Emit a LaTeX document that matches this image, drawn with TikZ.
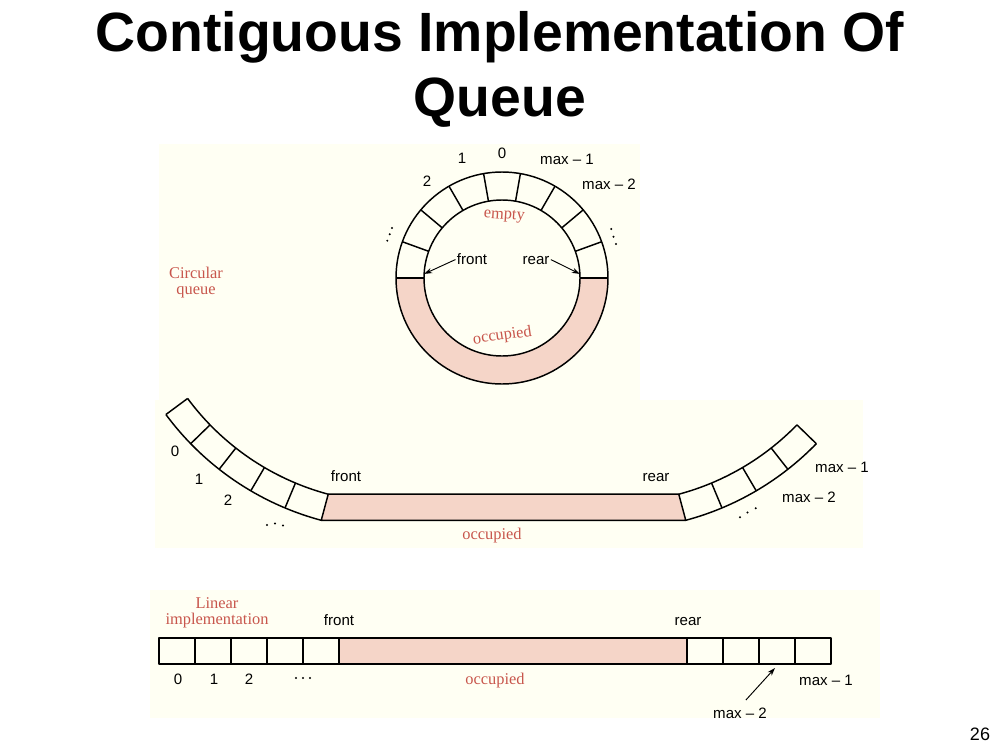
\documentclass[tikz,border=0pt]{standalone}
\usepackage{fontspec}
\setmainfont{Liberation Sans}
\newfontfamily\redfont{Liberation Serif}
\usetikzlibrary{arrows.meta}
\definecolor{cream}{RGB}{255,255,243}
\definecolor{occ}{RGB}{245,213,200}
\definecolor{redtxt}{RGB}{200,86,76}
\begin{document}
\begin{tikzpicture}[x=0.75pt,y=-0.75pt,
  lab/.style={font=\fontsize{11.3}{13}\selectfont, inner sep=0pt, text height=8.2pt, text depth=0pt},
  redlab/.style={font=\redfont\fontsize{12.3}{14}\selectfont, text=redtxt, inner sep=0pt, anchor=base},
  ring/.style={draw=black, line width=1.1pt, line join=round},
  ptr/.style={-{Stealth[length=6pt,width=4pt]}, line width=0.7pt, shorten <=1pt},
  titletext/.style={font=\bfseries\fontsize{41.5}{48}\selectfont, inner sep=0pt, anchor=base}]
\useasboundingbox (0,0) rectangle (1000,750);
\fill[white] (0,0) rectangle (1000,750);

% figure panels
\fill[cream] (159,144) rectangle (640,400);
\fill[cream] (155,400) rectangle (863,548);
\fill[cream] (150,590) rectangle (880,718);

% title
\node[titletext] (title1) at (500,51) {Contiguous Implementation Of};
\node[titletext] (title2) at (500,116) {Queue};

% ---------------- circular queue ----------------
\begin{scope}[shift={(502,278)}]
  \fill[occ] (0:106) arc[start angle=0,end angle=180,radius=106]
        -- (180:78) arc[start angle=180,end angle=0,radius=78] -- cycle;
  \draw[ring] (0,0) circle[radius=106];
  \draw[ring] (0,0) circle[radius=78];
  \foreach \a in {180,200,...,360} \draw[ring] (\a:78) -- (\a:106);
  \coordinate (cfront) at (183:78);
  \coordinate (crear) at (357:78);
\end{scope}
\node[lab] (c0) at (502,153) {0};
\node[lab] (c1) at (462,158) {1};
\node[lab] (c2) at (427,181) {2};
\node[lab] (cm1) at (567,159) {max – 1};
\node[lab] (cm2) at (609,184) {max – 2};
\foreach \p in {(392,228),(389.7,234.3),(387.3,240.7),(611.3,229),(613.5,236.7),(616,244)}
  \fill \p circle[radius=1.1];
\node[redlab, rotate=-4] (cempty) at (504,219) {empty};
\node[redlab, rotate=8] (cocc) at (503,340) {occupied};
\node[lab] (cfrontlab) at (472,259) {front};
\node[lab] (crearlab) at (536,259) {rear};
\draw[ptr] (cfrontlab.west) -- (cfront);
\draw[ptr] (crearlab.east) -- (crear);
\node[redlab] (circ1) at (196,278) {Circular};
\node[redlab] (circ2) at (196,294) {queue};

% ---------------- unrolled ring ----------------
\begin{scope}[shift={(395,245)}]
  \coordinate (ljin) at (105:258);
  \coordinate (ljout) at (105:285);
\end{scope}
\begin{scope}[shift={(612,245)}]
  \coordinate (rjin) at (75:258);
  \coordinate (rjout) at (75:285);
\end{scope}
\filldraw[ring, fill=occ] (ljin) -- (rjin) -- (rjout) -- (ljout) -- cycle;
\begin{scope}[shift={(395,245)}]
  \draw[ring] (105:258) arc[start angle=105,end angle=143.5,radius=258];
  \draw[ring] (105:285) arc[start angle=105,end angle=143.5,radius=285];
  \foreach \a in {112.7,120.4,128.1,135.8,143.5} \draw[ring] (\a:258) -- (\a:285);
\end{scope}
\begin{scope}[shift={(612,245)}]
  \draw[ring] (75:258) arc[start angle=75,end angle=44.2,radius=258];
  \draw[ring] (75:285) arc[start angle=75,end angle=44.2,radius=285];
  \foreach \a in {67.3,59.6,51.9,44.2} \draw[ring] (\a:258) -- (\a:285);
\end{scope}
\node[lab] (u0) at (175,451) {0};
\node[lab] (u1) at (199,479) {1};
\node[lab] (u2) at (228,500) {2};
\node[lab] (ufront) at (346,476) {front};
\node[lab] (urear) at (656,476) {rear};
\node[lab] (um1) at (842,467) {max – 1};
\node[lab] (um2) at (809,497) {max – 2};
\node[redlab] (uocc) at (492,539) {occupied};
\foreach \p in {(267,525),(275,523.5),(283,525.5),(740,517.3),(747.5,512.5),(755.7,508.3)}
  \fill \p circle[radius=1.1];

% ---------------- linear implementation ----------------
\foreach \i in {0,...,4} \draw[ring] (159+36*\i,638) rectangle ++(36,26);
\filldraw[ring, fill=occ] (339,638) rectangle (687,664);
\foreach \i in {0,...,3} \draw[ring] (687+36*\i,638) rectangle ++(36,26);
\coordinate (lm2cell) at (775,668);
\node[redlab] (lin1) at (217,608) {Linear};
\node[redlab] (lin2) at (217,624) {implementation};
\node[lab] (lfront) at (339,620) {front};
\node[lab] (lrear) at (688,620) {rear};
\node[lab] (l0) at (178,679) {0};
\node[lab] (l1) at (214,679) {1};
\node[lab] (l2) at (249,679) {2};
\foreach \p in {(296,678),(303,678),(310,678)}
  \fill \p circle[radius=1.1];
\node[redlab] (locc) at (495,684) {occupied};
\node[lab] (lm1) at (826,680) {max – 1};
\node[lab] (lm2) at (740,713) {max – 2};
\draw[ptr] (745,701) -- (lm2cell);

% slide number
\node[font=\fontsize{13.5}{15}\selectfont, inner sep=0pt] (pg) at (980,734) {26};
\end{tikzpicture}
\end{document}
